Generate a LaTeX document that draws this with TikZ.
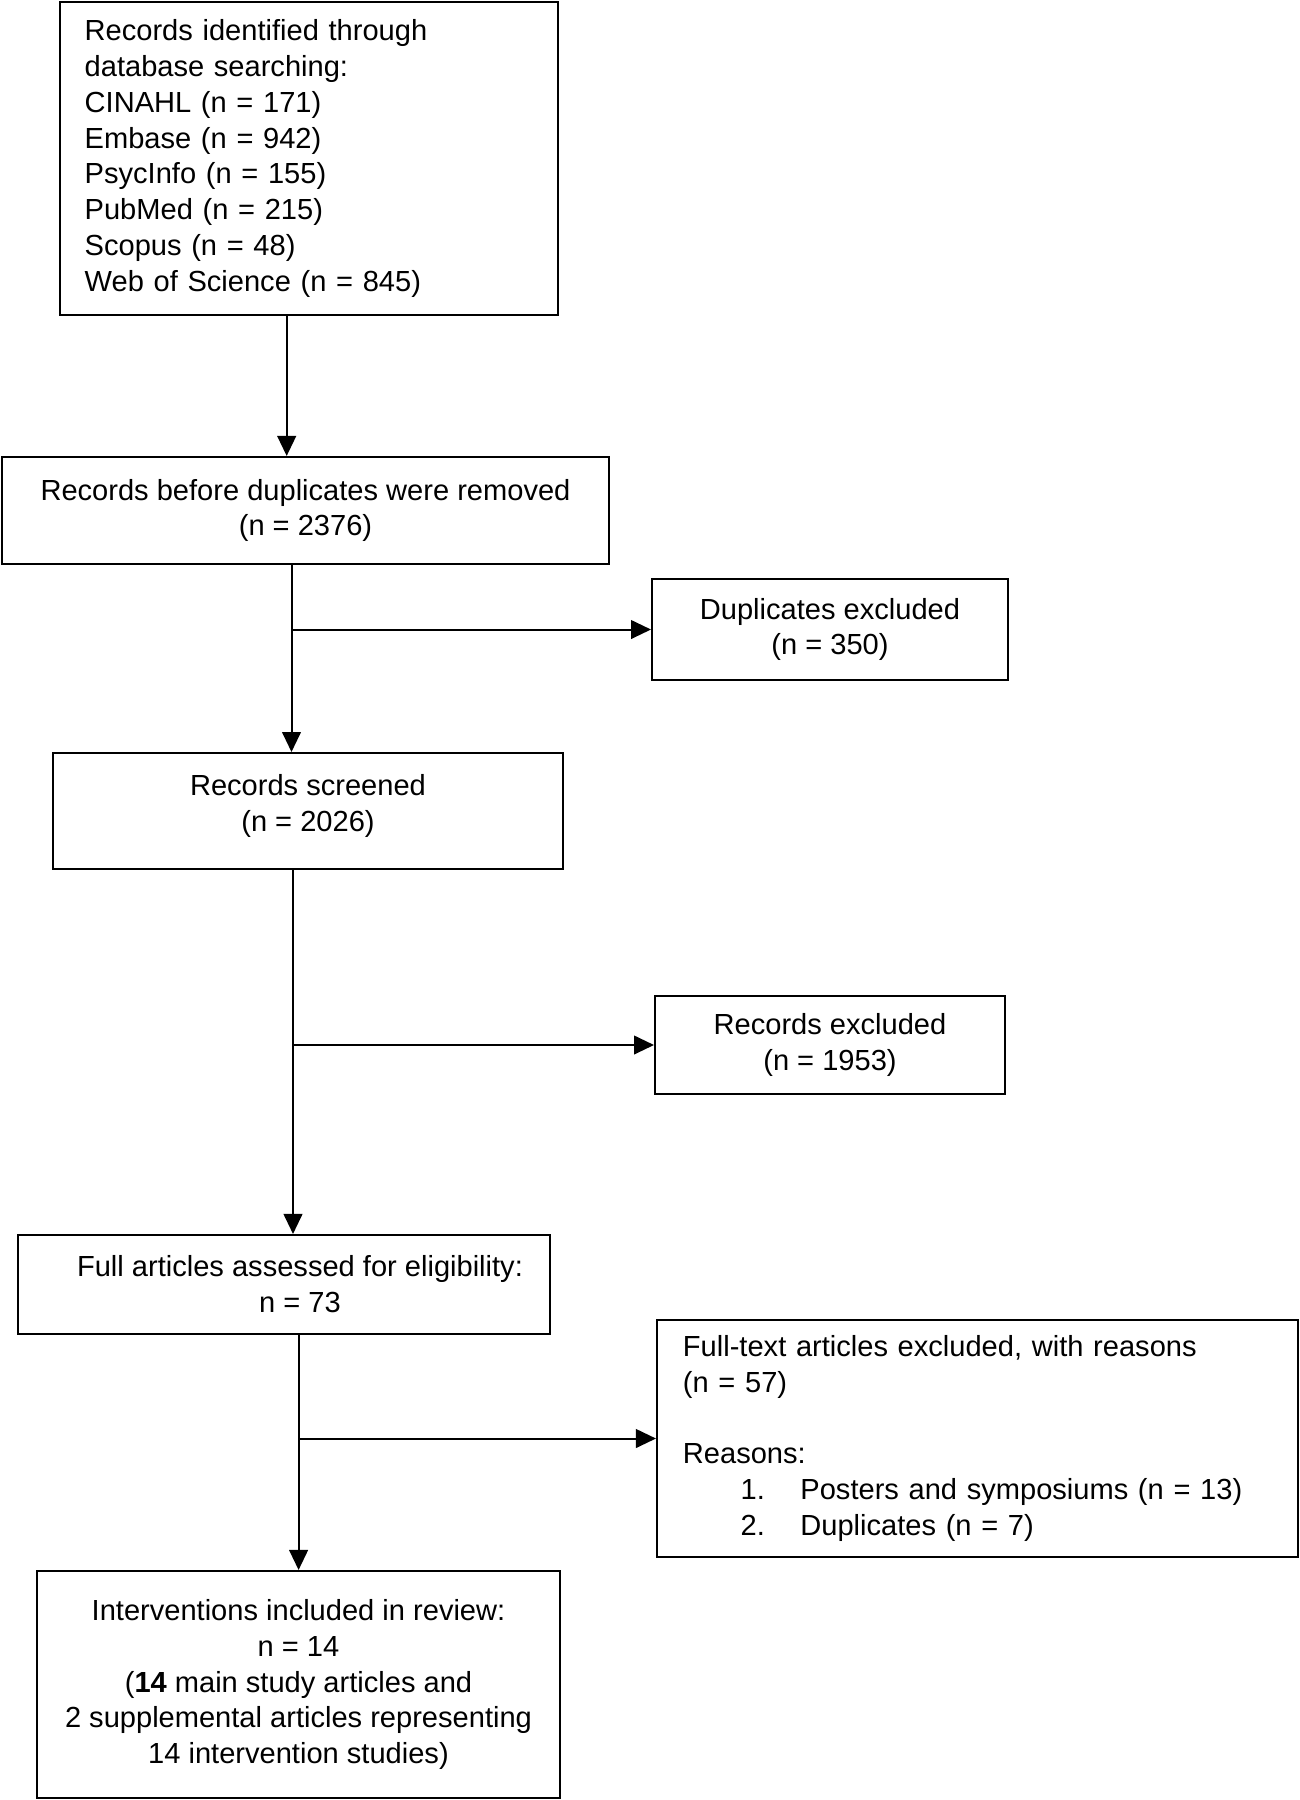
\documentclass[tikz,border=0pt]{standalone}
\usepackage{fontspec}
\setmainfont{Liberation Sans}
\usetikzlibrary{arrows.meta}

\tikzset{every picture/.style={line width=0.75pt}}
\tikzset{
  box/.style={draw, line width=1.5pt, inner sep=0pt, align=center, font=\fontsize{21.8}{26.9}\selectfont},
  arr/.style={line width=1.5pt, -{Triangle[length=15pt,width=14pt]}}
}

\begin{document}
\begin{tikzpicture}[x=0.75pt,y=0.75pt,yscale=-1,xscale=1]
	\useasboundingbox (0,0) rectangle (1300,1800);
	
	%Boxes down the left
	\node [box, align=left, text width=336.3pt, minimum width=373.8pt, minimum height=234.3pt, inner xsep=18.75pt] (ident) at (308.9,158.5) {Records identified through\\database searching:\\CINAHL (n = 171)\\Embase (n = 942)\\PsycInfo (n = 155)\\PubMed (n = 215)\\Scopus (n = 48)\\Web of Science (n = 845)};
	\node [box, minimum width=455.3pt, minimum height=80.3pt] (before) at (305.5,510.5) {Records before duplicates were removed\\(n = 2376)};
	\node [box, minimum width=382.5pt, minimum height=87pt, text depth=12.4pt] (screened) at (308,811) {Records screened\\(n = 2026)};
	\node [box, minimum width=399pt, minimum height=74.3pt] (fullart) at (284,1284.5) {\hspace*{24pt}Full articles assessed for eligibility:\\\hspace*{24pt}n = 73};
	\node [box, minimum width=392.3pt, minimum height=170.3pt] (incl) at (298.5,1684.5) {Interventions included in review:\\n = 14\\(\textbf{14} main study articles and\\2 supplemental articles representing\\14 intervention studies)};
	
	%Boxes on the right
	\node [box, minimum width=267pt, minimum height=75.8pt] (dupl) at (830,629.5) {Duplicates excluded\\(n = 350)};
	\node [box, minimum width=262.5pt, minimum height=73.5pt] (recexcl) at (830,1045) {Records excluded\\(n = 1953)};
	\node [box, align=left, text width=441.8pt, minimum width=480.8pt, minimum height=177.8pt, inner xsep=19.5pt] (fulltext) at (977.5,1438.5) {Full-text articles excluded, with reasons\\(n = 57)\\[26.9pt]Reasons:\\\hspace*{43.3pt}\makebox[44.8pt][l]{1.}Posters and symposiums (n = 13)\\\hspace*{43.3pt}\makebox[44.8pt][l]{2.}Duplicates (n = 7)};
	
	%Trunk and branches
	\coordinate (t1) at (286.7,0);
	\coordinate (t2) at (291.5,629.5);
	\coordinate (t3) at (293,1045);
	\coordinate (t4) at (298.6,1438.5);
	
	\draw [arr] (ident.south -| t1) -- (before.north -| t1);
	\draw [arr] (before.south -| t2) -- (screened.north -| t2);
	\draw [arr] (t2) -- (dupl.west);
	\draw [arr] (screened.south -| t3) -- (fullart.north -| t3);
	\draw [arr] (t3) -- (recexcl.west);
	\draw [arr] (fullart.south -| t4) -- (incl.north -| t4);
	\draw [arr] (t4) -- (fulltext.west);
	
\end{tikzpicture}
\end{document}
